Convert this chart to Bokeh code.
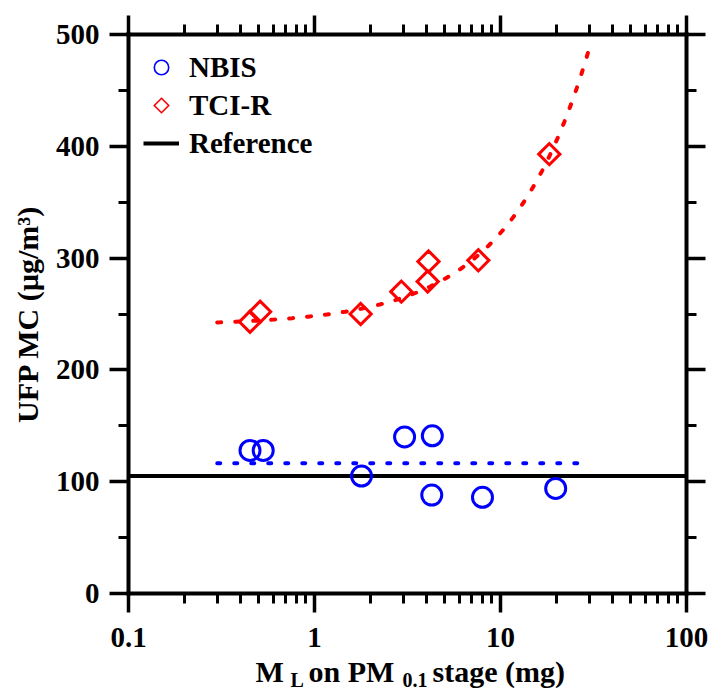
import numpy as np
from bokeh.plotting import figure
from bokeh.models import (Range1d, FixedTicker, LogAxis, LinearAxis, Label,
                          Legend, LegendItem, CustomJSTickFormatter)
from bokeh.embed import file_html
from bokeh.resources import INLINE

# ---- data ----
nbis_x = [0.45, 0.53, 1.79, 3.05, 4.3, 4.27, 8.0, 19.8]
nbis_y = [128, 128, 105, 140, 141, 88, 86, 94]
tci_x = [0.45, 0.51, 1.77, 2.93, 4.06, 4.1, 7.6, 18.3]
tci_y = [243, 252, 250, 270, 279, 297, 298, 393]

reference_level = 105
nbis_fit_intercept, nbis_fit_slope = 116.5, 0.0
tci_fit_intercept, tci_fit_slope = 240.0, 8.25
fit_x_range = (0.3, 30)

x_limits = (0.1, 100)
y_limits = (0, 500)
xtick_vals = [0.1, 1, 10, 100]
xtick_labels = ["0.1", "1", "10", "100"]
xminor_vals = [0.2, 0.3, 0.4, 0.5, 0.6, 0.7, 0.8, 0.9,
               2, 3, 4, 5, 6, 7, 8, 9,
               20, 30, 40, 50, 60, 70, 80, 90]
ytick_vals = [0, 100, 200, 300, 400, 500]
yminor_vals = [50, 150, 250, 350, 450]

series_names = ["NBIS", "TCI-R", "Reference"]
y_label = "UFP MC (µg/m³)"

# ---- layout (pixels) ----
W, H = 712, 690
BOX_L, BOX_R, BOX_T, BOX_B = 128, 686, 34, 593
FONT = "Liberation Serif"
BLUE = "#0000FF"
RED = "#FF0000"

# frame fills the whole canvas; the axes box sits inside it at fixed locations
decade_px = (BOX_R - BOX_L) / np.log10(x_limits[1] / x_limits[0])
x_start = x_limits[0] * 10 ** (-BOX_L / decade_px)
x_end = x_limits[1] * 10 ** ((W - BOX_R) / decade_px)
unit_px = (BOX_B - BOX_T) / (y_limits[1] - y_limits[0])
y_start = y_limits[0] - (H - BOX_B) / unit_px
y_end = y_limits[1] + BOX_T / unit_px

p = figure(width=W, height=H, x_axis_type="log",
           x_range=Range1d(x_start, x_end), y_range=Range1d(y_start, y_end),
           output_backend="svg", toolbar_location=None, min_border=0)
p.outline_line_color = None
p.xgrid.visible = False
p.ygrid.visible = False
p.background_fill_color = "white"
p.border_fill_color = "white"

xticker = FixedTicker(ticks=xtick_vals, minor_ticks=xminor_vals)
yticker = FixedTicker(ticks=ytick_vals, minor_ticks=yminor_vals)
xfmt = CustomJSTickFormatter(args=dict(vals=xtick_vals, labels=xtick_labels),
                             code="const i = vals.indexOf(tick); return i >= 0 ? labels[i] : '';")


def style_axis(ax, show_labels=True):
    ax.axis_line_width = 4
    ax.axis_line_color = "black"
    ax.axis_line_cap = "square"
    ax.major_tick_line_width = 3.5
    ax.major_tick_line_color = "black"
    ax.major_tick_out = 19
    ax.major_tick_in = 0
    ax.minor_tick_line_width = 3
    ax.minor_tick_line_color = "black"
    ax.minor_tick_out = 10
    ax.minor_tick_in = 0
    ax.major_label_text_font = FONT
    ax.major_label_text_font_style = "bold"
    ax.major_label_text_color = "black"
    ax.major_label_text_font_size = "29px"
    ax.major_label_standoff = 10
    if not show_labels:
        ax.major_label_text_font_size = "0px"
        ax.major_label_text_color = None
        ax.major_label_standoff = 0


xb = p.xaxis[0]
xb.ticker = xticker
xb.formatter = xfmt
xb.bounds = x_limits
xb.fixed_location = y_limits[0]
style_axis(xb)
xb.major_label_standoff = 15

yl = p.yaxis[0]
yl.ticker = yticker
yl.bounds = y_limits
yl.fixed_location = x_limits[0]
style_axis(yl)
yl.axis_label = y_label
yl.axis_label_text_font = FONT
yl.axis_label_text_font_style = "bold"
yl.axis_label_text_font_size = "30px"
yl.axis_label_text_color = "black"
yl.axis_label_standoff = 9

xt = LogAxis(ticker=xticker, formatter=xfmt, bounds=x_limits, fixed_location=y_limits[1])
style_axis(xt, show_labels=False)
p.add_layout(xt, "above")

yr = LinearAxis(ticker=yticker, bounds=y_limits, fixed_location=x_limits[1])
style_axis(yr, show_labels=False)
p.add_layout(yr, "right")

# ---- reference line across the whole axis box ----
p.segment(x0=[x_limits[0]], x1=[x_limits[1]], y0=[reference_level], y1=[reference_level],
          line_color="black", line_width=4)

# ---- fit lines ----
fx = np.geomspace(fit_x_range[0], fit_x_range[1], 120)
p.line(fx, nbis_fit_intercept + nbis_fit_slope * fx, line_color=BLUE,
       line_width=4, line_dash="3 14", line_cap="round")
p.line(fx, tci_fit_intercept + tci_fit_slope * fx, line_color=RED,
       line_width=4, line_dash="4 14", line_cap="round")

# ---- data markers ----
p.scatter(nbis_x, nbis_y, marker="circle", size=20, line_color=BLUE,
          fill_color=None, line_width=3)
p.scatter(tci_x, tci_y, marker="square", angle=np.pi / 4, size=15,
          line_color=RED, fill_color=None, line_width=3, line_join="miter")

# ---- legend-only proxies (not drawn in the plot: NaN positions) ----
nan = [float("nan")]
lg_nbis = p.scatter(x=nan, y=nan, marker="circle", size=14, line_color=BLUE,
                    fill_color=None, line_width=1.6)
try:
    lg_tci = p.ngon(x=nan, y=nan, radius=7, n=4, radius_units="screen",
                    line_color=RED, fill_color=None, line_width=1.6, line_join="miter")
except Exception:
    lg_tci = p.scatter(x=nan, y=nan, marker="diamond", size=14, line_color=RED,
                       fill_color=None, line_width=1.6)
lg_ref = p.line(x=nan, y=nan, line_color="black", line_width=4)

LEG_ROWS, LEG_GLYPH, LEG_SPACING = 3, 36, 2
leg_height = LEG_ROWS * LEG_GLYPH + (LEG_ROWS - 1) * LEG_SPACING
legend = Legend(items=[LegendItem(label=series_names[0], renderers=[lg_nbis]),
                       LegendItem(label=series_names[1], renderers=[lg_tci]),
                       LegendItem(label=series_names[2], renderers=[lg_ref])],
                location=(143, H - 49 - leg_height))
legend.margin = 0
legend.padding = 0
legend.spacing = LEG_SPACING
legend.glyph_width = LEG_GLYPH
legend.glyph_height = LEG_GLYPH
legend.label_standoff = 10
legend.label_text_font = FONT
legend.label_text_font_style = "bold"
legend.label_text_font_size = "29px"
legend.label_text_color = "black"
legend.border_line_color = None
legend.background_fill_alpha = 0
p.add_layout(legend)

# ---- x axis label with subscripts (page x, page y of the text anchor) ----
xlabel_parts = [("M", 255, 671, "30px"),
                ("L", 290, 679, "20px"),
                ("on PM", 308, 671, "30px"),
                ("0.1", 402, 679, "20px"),
                ("stage (mg)", 432, 671, "30px")]
for txt, px, py, fs in xlabel_parts:
    p.add_layout(Label(x=px, y=H - py, x_units="screen", y_units="screen", text=txt,
                       text_font=FONT, text_font_style="bold",
                       text_font_size=fs, text_color="black",
                       text_align="left", text_baseline="alphabetic"))

open("out.html", "w").write(file_html(p, INLINE))
